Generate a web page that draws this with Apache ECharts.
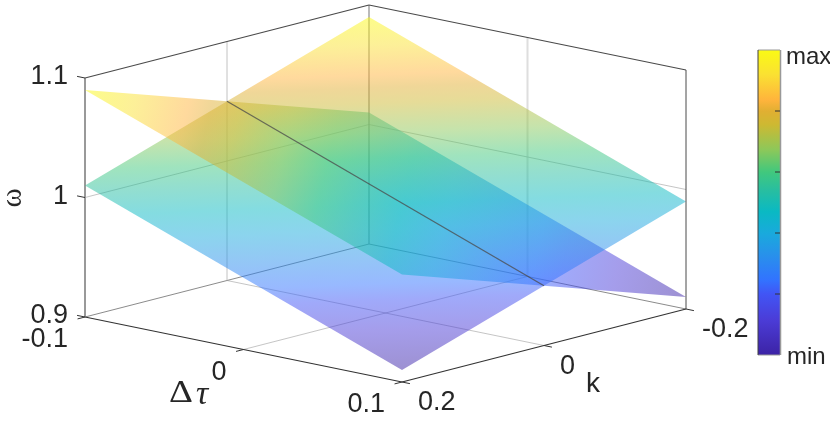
<!DOCTYPE html>
<html>
<head>
<meta charset="utf-8">
<style>html,body{margin:0;padding:0;background:#fff}#c{width:830px;height:423px}</style>
<script src="https://cdn.jsdelivr.net/npm/echarts@6/dist/echarts.min.js"></script>
</head>
<body>
<div id="c"></div>
<script>
// ---- data ----
const tauTicks = [-0.1, 0, 0.1];
const kTicks = [-0.2, 0, 0.2];
const omegaTicks = [0.9, 1, 1.1];
const tauTickLabels = ['-0.1', '0', '0.1'];
const kTickLabels = ['-0.2', '0', '0.2'];
const omegaTickLabels = ['0.9', '1', '1.1'];
// surface heights: rows follow surfaceK, columns follow surfaceTau
const surfaceTau = [-0.1, 0.1];
const surfaceK = [-0.2, 0, 0.2];
const surfaceA = [[1.09, 0.99], [1.05, 0.95], [1.01, 0.91]];
const surfaceB = [[1.01, 0.91], [1.05, 0.95], [1.09, 0.99]];
const crossTau = [-0.1, 0.1];
const crossK = [0, 0];
const crossOmega = [1.05, 0.95];
const colorLimits = [0.91, 1.09];
const colorStops = [
  [0, '60,35,165'], [0.115, '75,60,215'], [0.2, '65,85,245'], [0.246, '50,115,255'],
  [0.328, '40,145,235'], [0.4, '25,170,220'], [0.47, '10,185,195'], [0.54, '40,190,160'],
  [0.6, '65,200,125'], [0.672, '140,200,90'], [0.755, '205,185,50'], [0.8, '225,175,50'],
  [0.836, '255,180,60'], [0.92, '250,225,50'], [1, '250,250,20']
];
const colorbarTicks = [0.2, 0.4, 0.6, 0.8];
const colorbarLabels = ['max', 'min'];

// ---- view ----
const W = 830, H = 423;
const view = { ox: 385.5, oy: 313, tauX: 1585, tauY: 325, kX: -710, kY: 182.5, wY: -1195, wBase: 0.9 };
const FACE_ALPHA = 0.5;
const bar = { x0: 758, x1: 780, y0: 50, y1: 355 };
const FONT = 'Arial, "Liberation Sans", sans-serif';
const SERIF = '"Liberation Serif", "Times New Roman", serif';
const INK = '#262626';

function project(tau, k, w) {
  return [view.ox + tau * view.tauX + k * view.kX,
          view.oy + tau * view.tauY + k * view.kY + (w - view.wBase) * view.wY];
}
const tMin = tauTicks[0], tMax = tauTicks[2], kMin = kTicks[0], kMax = kTicks[2], wMin = omegaTicks[0], wMax = omegaTicks[2];

function seg(a, b, color, width) { return { a, b, color, width }; }

// gridlines behind the surfaces
const gridGray = 'rgba(150,150,150,0.55)';
const backLines = [
  seg([tMin, kMax, 1], [tMin, kMin, 1], gridGray, 1),
  seg([tMin, kMin, 1], [tMax, kMin, 1], gridGray, 1),
  seg([tMin, kMax, wMin], [tMin, kMin, wMin], 'rgba(110,110,110,0.8)', 1),
  seg([tMin, kMin, wMin], [tMax, kMin, wMin], 'rgba(110,110,110,0.8)', 1),
  seg([0, kMax, wMin], [0, kMin, wMin], gridGray, 1),
  seg([tMax, 0, wMin], [tMin, 0, wMin], gridGray, 1),
  seg([tMin, 0, wMin], [tMin, 0, wMax], 'rgba(170,170,170,0.7)', 1),
  seg([tMin, kMin, wMin], [tMin, kMin, wMax], 'rgba(140,140,140,0.8)', 1.5),
  seg([0, kMin, wMin], [0, kMin, wMax], 'rgba(190,190,190,0.5)', 2),
  seg([tMin, kMax, wMin], [tMin, kMax, wMax], '#999999', 2)
];
// box and axes
const dark = '#4a4a4a';
const boxLines = [
  seg([tMin, kMax, wMax], [tMin, kMin, wMax], dark, 1.2),
  seg([tMin, kMin, wMax], [tMax, kMin, wMax], dark, 1.2),
  seg([tMax, kMin, wMin], [tMax, kMin, wMax], dark, 1),
  seg([tMin, kMax, wMin], [tMax, kMax, wMin], '#333333', 1.2),
  seg([tMax, kMax, wMin], [tMax, kMin, wMin], '#333333', 1.2)
];
const tickTau = 0.005, tickK = 0.0105;
tauTicks.forEach(t => boxLines.push(seg([t, kMax, wMin], [t, kMax + tickK, wMin], '#333333', 1)));
kTicks.forEach(k => boxLines.push(seg([tMax, k, wMin], [tMax + tickTau, k, wMin], '#333333', 1)));
omegaTicks.forEach(w => boxLines.push(seg([tMin, kMax, w], [tMin - tickTau, kMax, w], '#333333', 1)));

const crossLine = [seg([crossTau[0], crossK[0], crossOmega[0]], [crossTau[1], crossK[1], crossOmega[1]], 'rgba(70,70,70,0.75)', 1.2)];

// surface patches, farthest first at each pixel
function patch(surface, row) {
  return [[0, row], [1, row], [1, row + 1], [0, row + 1]].map(([c, r]) => [surfaceTau[c], surfaceK[r], surface[r][c]]);
}
const patches = [patch(surfaceB, 0), patch(surfaceA, 0), patch(surfaceA, 1), patch(surfaceB, 1)];

const bandStops = colorStops.map(([o, c]) => ({ offset: o, color: 'rgba(' + c + ',' + FACE_ALPHA + ')' }));
const barStops = colorStops.map(([o, c]) => ({ offset: o, color: 'rgb(' + c + ')' }));

function patchGradient(pts, api) {
  // omega is affine in screen space on a flat patch: find its screen gradient
  const s = pts.map(p => { const q = api.coord(project(p[0], p[1], p[2])); return [q[0], q[1], p[2]]; });
  const ax = s[1][0] - s[0][0], ay = s[1][1] - s[0][1], aw = s[1][2] - s[0][2];
  const bx = s[3][0] - s[0][0], by = s[3][1] - s[0][1], bw = s[3][2] - s[0][2];
  const det = ax * by - ay * bx;
  const gx = (aw * by - ay * bw) / det, gy = (ax * bw - aw * bx) / det;
  const n = gx * gx + gy * gy;
  const a = (colorLimits[0] - s[0][2]) / n, b = (colorLimits[1] - s[0][2]) / n;
  const grad = new echarts.graphic.LinearGradient(
    s[0][0] + gx * a, s[0][1] + gy * a, s[0][0] + gx * b, s[0][1] + gy * b, bandStops, true);
  return { points: s.map(q => [q[0], q[1]]), grad };
}

function lineRender(list) {
  return function (params, api) {
    const l = list[params.dataIndex];
    const p = api.coord(project.apply(null, l.a)), q = api.coord(project.apply(null, l.b));
    return { type: 'line', shape: { x1: p[0], y1: p[1], x2: q[0], y2: q[1] }, style: { stroke: l.color, lineWidth: l.width, fill: null }, silent: true };
  };
}
function lineSeries(list, z) {
  return { type: 'custom', coordinateSystem: 'cartesian2d', clip: false, z, animation: false, silent: true,
    data: list.map((_, i) => [i]), renderItem: lineRender(list) };
}

// texts: anchored to their tick through the projection
const texts = [];
function addText(text, pos, dx, dy, align, font, extra) {
  texts.push(Object.assign({ text, pos, dx, dy, align, font }, extra || {}));
}
const tickFont = '27px ' + FONT;
tauTicks.forEach((t, i) => addText(tauTickLabels[i], project(t, kMax, wMin), -17, 23, 'right', tickFont));
kTicks.forEach((k, i) => addText(kTickLabels[i], project(tMax, k, wMin), 16, 21, 'left', tickFont));
omegaTicks.forEach((w, i) => addText(omegaTickLabels[i], project(tMin, kMax, w), -17, -1, 'right', tickFont));
addText('k', [593, 384], 0, 0, 'center', '28px ' + FONT);
addText('Δ', [181, 394], 0, 0, 'center', '31px ' + SERIF, { scaleX: 1.2 });
addText('τ', [202, 395], 0, 0, 'center', 'italic 34px ' + SERIF);
addText('ω', [13, 198], 0, 0, 'center', '29px ' + SERIF, { rotation: Math.PI / 2 });
addText(colorbarLabels[0], [bar.x1 + 6, bar.y0 + 7], 0, 0, 'left', '24px ' + FONT);
addText(colorbarLabels[1], [bar.x1 + 7, bar.y1 - 3 + 5], 0, 0, 'left', '24px ' + FONT);

const option = {
  animation: false,
  backgroundColor: '#ffffff',
  grid: { left: 0, right: 0, top: 0, bottom: 0 },
  xAxis: { type: 'value', min: 0, max: W, show: false },
  yAxis: { type: 'value', min: 0, max: H, inverse: true, show: false },
  series: [
    lineSeries(backLines, 1),
    { type: 'custom', coordinateSystem: 'cartesian2d', clip: false, z: 2, silent: true,
      data: patches.map((_, i) => [i]),
      renderItem(params, api) {
        const g = patchGradient(patches[params.dataIndex], api);
        return { type: 'polygon', shape: { points: g.points }, style: { fill: g.grad }, silent: true };
      } },
    lineSeries(crossLine, 3),
    lineSeries(boxLines, 4),
    { type: 'custom', coordinateSystem: 'cartesian2d', clip: false, z: 5, silent: true,
      data: [[0]],
      renderItem(params, api) {
        const tl = api.coord([bar.x0, bar.y0]), br = api.coord([bar.x1, bar.y1]);
        const grad = new echarts.graphic.LinearGradient(0, 1, 0, 0, barStops);
        const kids = [
          { type: 'rect', shape: { x: tl[0], y: tl[1], width: br[0] - tl[0], height: br[1] - tl[1] }, style: { fill: grad } },
          { type: 'line', shape: { x1: tl[0], y1: tl[1], x2: br[0], y2: tl[1] }, style: { stroke: '#999999', lineWidth: 1 } },
          { type: 'line', shape: { x1: br[0] + 0.5, y1: tl[1], x2: br[0] + 0.5, y2: br[1] }, style: { stroke: '#999999', lineWidth: 1.5 } },
          { type: 'line', shape: { x1: tl[0], y1: br[1], x2: br[0], y2: br[1] }, style: { stroke: '#999999', lineWidth: 1 } },
          { type: 'line', shape: { x1: tl[0], y1: tl[1], x2: tl[0], y2: br[1] }, style: { stroke: '#404040', lineWidth: 1 } }
        ];
        colorbarTicks.forEach(t => {
          const y = br[1] + (tl[1] - br[1]) * t;
          kids.push({ type: 'line', shape: { x1: br[0] - 5, y1: y, x2: br[0], y2: y }, style: { stroke: '#333333', lineWidth: 1 } });
        });
        return { type: 'group', children: kids, silent: true };
      } },
    { type: 'custom', coordinateSystem: 'cartesian2d', clip: false, z: 6, silent: true,
      data: texts.map((_, i) => [i]),
      renderItem(params, api) {
        const t = texts[params.dataIndex];
        const p = api.coord(t.pos);
        return { type: 'text', x: p[0] + t.dx, y: p[1] + t.dy, rotation: t.rotation || 0, scaleX: t.scaleX || 1, silent: true,
          style: { text: t.text, font: t.font, fill: INK, align: t.align, verticalAlign: 'middle' } };
      } }
  ]
};
const chart = echarts.init(document.getElementById('c'), null, { renderer: 'canvas' });
chart.setOption(option);
</script>
</body>
</html>
